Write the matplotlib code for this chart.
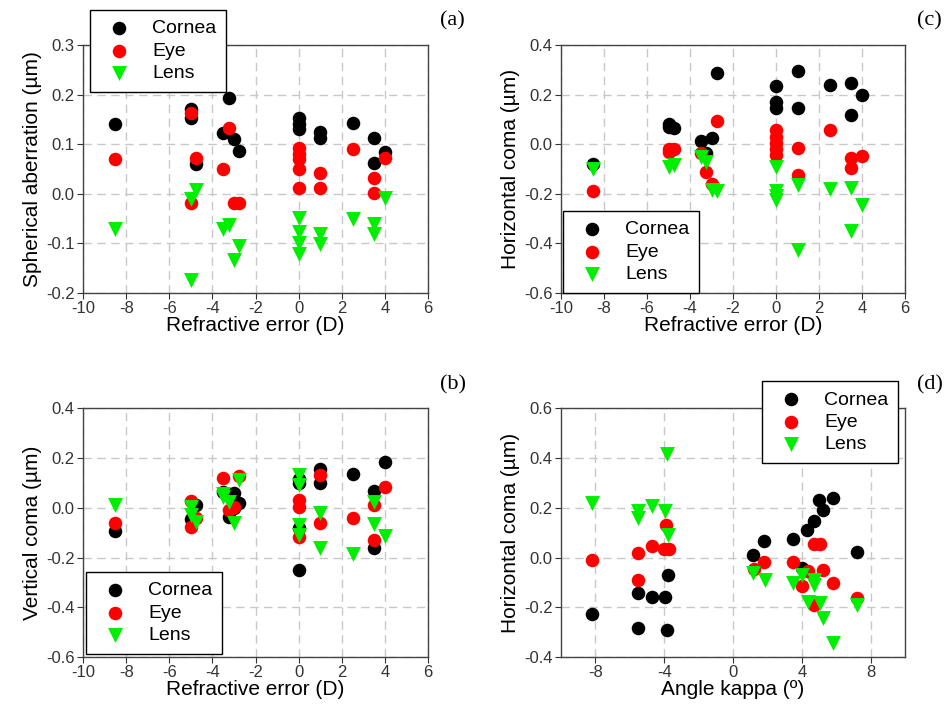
import matplotlib
matplotlib.use("Agg")
import matplotlib.pyplot as plt

plt.rcParams["font.family"] = ["Liberation Sans", "DejaVu Sans"]
plt.rcParams["axes.unicode_minus"] = False

# (a) spherical aberration vs refractive error
a_cornea_x = [-8.5, -5, -5, -4.75, -3.5, -3.25, -3, -2.75, 0, 0, 0, 1, 1, 2.5, 3.5, 3.5, 4]
a_cornea_y = [0.14, 0.172, 0.152, 0.061, 0.123, 0.193, 0.110, 0.086, 0.152, 0.141, 0.130, 0.124, 0.112, 0.142, 0.112, 0.063, 0.085]
a_eye_x = [-8.5, -5, -5, -4.75, -3.5, -3.25, -3, -2.75, 0, 0, 0, 0, 0, 1, 1, 2.5, 3.5, 3.5, 4]
a_eye_y = [0.07, 0.162, -0.019, 0.072, 0.051, 0.132, -0.019, -0.019, 0.092, 0.080, 0.070, 0.051, 0.011, 0.043, 0.011, 0.090, 0.032, 0.002, 0.072]
a_lens_x = [-8.5, -5, -5, -4.75, -3.5, -3.25, -3, -2.75, 0, 0, 0, 0, 1, 1, 2.5, 3.5, 3.5, 4]
a_lens_y = [-0.07, -0.01, -0.174, 0.008, -0.070, -0.063, -0.134, -0.105, -0.049, -0.076, -0.100, -0.121, -0.080, -0.101, -0.051, -0.060, -0.080, -0.009]

# (b) vertical coma vs refractive error
b_cornea_x = [-8.5, -5, -4.75, -3.5, -3.25, -3, -3, -2.75, 0, 0, 0, 0, 1, 1, 2.5, 3.5, 3.5, 4]
b_cornea_y = [-0.093, -0.046, 0.011, 0.064, -0.036, 0.058, 0.0, 0.018, 0.114, 0.098, -0.083, -0.25, 0.154, 0.098, 0.135, 0.067, -0.163, 0.184]
b_eye_x = [-8.5, -5, -5, -4.75, -3.5, -3.25, -3, -2.75, 0, 0, 0, 1, 1, 2.5, 3.5, 3.5, 4]
b_eye_y = [-0.063, 0.028, -0.078, -0.043, 0.12, -0.01, 0.004, 0.127, 0.03, 0.004, -0.117, 0.131, -0.06, -0.043, 0.01, -0.13, 0.082]
b_lens_x = [-8.5, -5, -5, -4.75, -3.5, -3.5, -3.25, -3, -2.75, 0, 0, 0, 0, 1, 1, 2.5, 3.5, 3.5, 4]
b_lens_y = [0.013, 0.004, -0.03, -0.056, 0.055, 0.044, 0.024, -0.062, 0.11, 0.131, 0.091, -0.07, -0.11, -0.023, -0.163, -0.186, 0.024, -0.066, -0.114]

# (c) horizontal coma vs refractive error
c_cornea_x = [-8.5, -5, -5, -4.75, -3.5, -3.25, -3, -2.75, 0, 0, 0, 1, 1, 2.5, 3.5, 3.5, 4]
c_cornea_y = [-0.08, 0.081, 0.071, 0.064, 0.014, -0.035, 0.024, 0.286, 0.235, 0.17, 0.145, 0.295, 0.145, 0.239, 0.245, 0.118, 0.198]
c_eye_x = [-8.5, -5, -5, -4.75, -3.5, -3.25, -3, -2.75, 0, 0, 0, 0, 0, 1, 1, 2.5, 3.5, 3.5, 4]
c_eye_y = [-0.19, -0.03, -0.02, -0.02, -0.037, -0.11, -0.16, 0.095, 0.057, 0.03, 0.005, -0.02, -0.044, -0.017, -0.124, 0.057, -0.057, -0.097, -0.048]
c_lens_x = [-8.5, -5, -4.75, -3.5, -3.25, -3, -2.75, 0, 0, 0, 0, 1, 1, 2.5, 3.5, 3.5, 4]
c_lens_y = [-0.10, -0.09, -0.085, -0.05, -0.07, -0.185, -0.19, -0.09, -0.187, -0.209, -0.225, -0.165, -0.427, -0.182, -0.175, -0.349, -0.245]

# (d) horizontal coma vs angle kappa
d_cornea_x = [-8.2, -5.5, -5.5, -4.73, -3.95, -3.86, -3.8, 1.18, 1.8, 3.47, 4.0, 4.28, 4.7, 5.02, 5.21, 5.83, 7.23]
d_cornea_y = [-0.229, -0.143, -0.283, -0.157, -0.157, -0.291, -0.069, 0.011, 0.068, 0.075, -0.042, 0.112, 0.146, 0.233, 0.193, 0.24, 0.022]
d_eye_x = [-8.2, -5.5, -5.5, -4.73, -3.9, -4.0, -3.75, 1.2, 1.8, 3.47, 4.0, 4.38, 4.7, 5.06, 4.7, 5.21, 5.8, 7.23]
d_eye_y = [-0.01, 0.018, -0.09, 0.048, 0.132, 0.034, 0.034, -0.045, -0.02, -0.02, -0.116, -0.056, 0.056, 0.056, -0.19, -0.049, -0.103, -0.164]
d_lens_x = [-8.2, -5.5, -5.5, -4.73, -3.95, -3.85, -3.8, 1.18, 1.86, 3.47, 4.0, 4.38, 4.7, 4.7, 5.06, 5.25, 5.83, 7.23]
d_lens_y = [0.22, 0.186, 0.159, 0.206, 0.186, 0.415, 0.092, -0.062, -0.09, -0.103, -0.07, -0.177, -0.09, -0.11, -0.183, -0.244, -0.345, -0.19]

refr_ticks = [-10, -8, -6, -4, -2, 0, 2, 4, 6]
kappa_ticks = [-8, -4, 0, 4, 8]

fig = plt.figure(figsize=(9.48, 7.23), dpi=100)


def panel(rect, cx, cy, ex, ey, lx, ly, xlim, xticks, ylim, yticks, xlabel, ylabel, tag, leg_loc, leg_anchor):
    ax = fig.add_axes(rect)
    ax.scatter(cx, cy, s=95, c="black", marker="o", linewidths=0, label="Cornea", zorder=3)
    ax.scatter(ex, ey, s=95, c="#ff0000", marker="o", linewidths=0, label="Eye", zorder=4)
    ax.scatter(lx, ly, s=115, c="#00ee00", marker="v", linewidths=0, label="Lens", zorder=5)
    ax.set_xlim(*xlim)
    ax.set_ylim(*ylim)
    ax.set_xticks(xticks)
    ax.set_yticks(yticks)
    ax.set_yticklabels(["%.1f" % v for v in yticks])
    ax.grid(True, linestyle=(0, (6, 4)), color="#c8c8c8", linewidth=1)
    ax.set_axisbelow(True)
    ax.tick_params(direction="out", length=4, pad=2, labelsize=12, colors="#333333")
    for sp in ax.spines.values():
        sp.set_color("#444444")
        sp.set_linewidth(1)
    ax.set_xlabel(xlabel, fontsize=15, labelpad=0)
    ax.set_ylabel(ylabel, fontsize=15, labelpad=3)
    leg = ax.legend(loc=leg_loc, bbox_to_anchor=leg_anchor, borderaxespad=0, fancybox=False,
                    edgecolor="black", framealpha=1, fontsize=14, handletextpad=0.7,
                    labelspacing=0.25, borderpad=0.5, handlelength=2.0, scatterpoints=1)
    leg.get_frame().set_linewidth(1)
    fig.text(rect[0] + rect[2] + 0.013, rect[1] + rect[3] + 0.033, tag,
             family="Liberation Serif", fontsize=16, ha="left", va="center")
    return ax


panel([0.0876, 0.5947, 0.364, 0.343], a_cornea_x, a_cornea_y, a_eye_x, a_eye_y, a_lens_x, a_lens_y,
      (-10, 6), refr_ticks, (-0.2, 0.3), [-0.2, -0.1, 0.0, 0.1, 0.2, 0.3],
      "Refractive error (D)", "Spherical aberration (\u00b5m)", "(a)", "upper left", (0.02, 1.141))
panel([0.5918, 0.5947, 0.3629, 0.343], c_cornea_x, c_cornea_y, c_eye_x, c_eye_y, c_lens_x, c_lens_y,
      (-10, 6), refr_ticks, (-0.6, 0.4), [-0.6, -0.4, -0.2, 0.0, 0.2, 0.4],
      "Refractive error (D)", "Horizontal coma (\u00b5m)", "(c)", "lower left", (0.006, 0.0))
panel([0.0876, 0.0913, 0.364, 0.344], b_cornea_x, b_cornea_y, b_eye_x, b_eye_y, b_lens_x, b_lens_y,
      (-10, 6), refr_ticks, (-0.6, 0.4), [-0.6, -0.4, -0.2, 0.0, 0.2, 0.4],
      "Refractive error (D)", "Vertical coma (\u00b5m)", "(b)", "lower left", (0.009, 0.012))
panel([0.5918, 0.0913, 0.3629, 0.344], d_cornea_x, d_cornea_y, d_eye_x, d_eye_y, d_lens_x, d_lens_y,
      (-10, 10), kappa_ticks, (-0.4, 0.6), [-0.4, -0.2, 0.0, 0.2, 0.4, 0.6],
      "Angle kappa (\u00ba)", "Horizontal coma (\u00b5m)", "(d)", "upper right", (0.98, 1.109))

fig.savefig("out.png", dpi=100)
